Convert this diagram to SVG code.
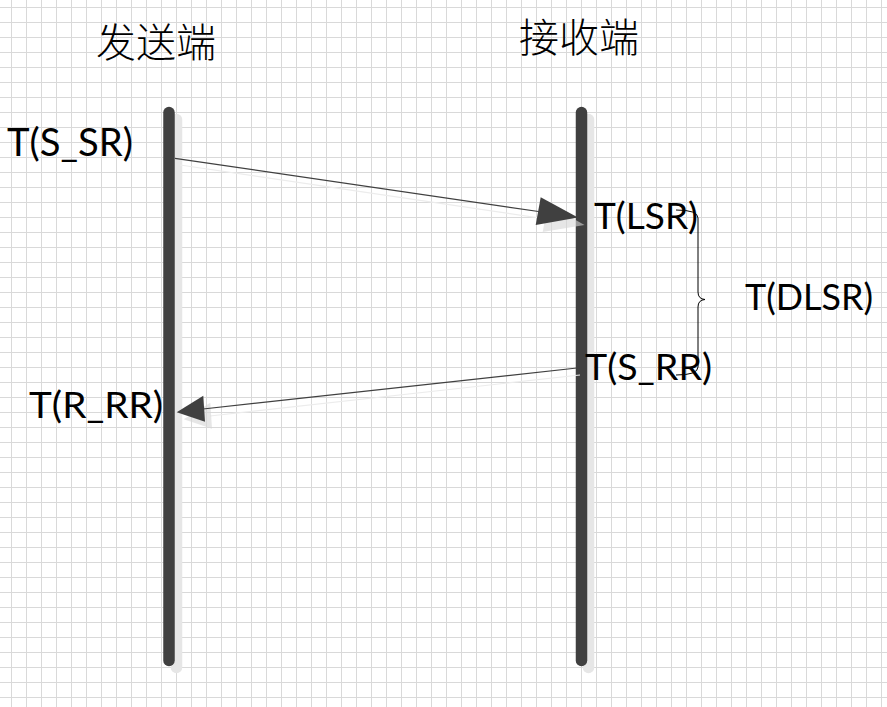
<svg xmlns="http://www.w3.org/2000/svg" width="887" height="707" viewBox="0 0 887 707">
<defs>
<pattern id="grid" x="11" y="7" width="15" height="15" patternUnits="userSpaceOnUse">
<path d="M0.5,0 V15 M0,0.5 H15" fill="none" stroke="#d9d9d9" stroke-width="1"/>
</pattern>
<style>
.life{stroke:#404040;stroke-width:11.5;stroke-linecap:round;fill:none}
.lifesh{stroke:#e6e6e6;stroke-width:11.5;stroke-linecap:round;fill:none}
.msg{stroke:#404040;stroke-width:1.2;fill:none}
.msgsh{stroke:#ececec;stroke-width:1.2;fill:none}
.head{fill:#404040}
.headsh{fill:#d6d6d6;opacity:0.6}
.lbl{font-family:Lato,"Open Sans","Noto Sans",sans-serif;font-size:37px;fill:#000}
.cjk{font-family:"Noto Sans CJK SC",sans-serif;font-size:40px;fill:#000;font-weight:300}
.brace{stroke:#000;stroke-width:1;fill:none}
</style>
</defs>
<rect width="887" height="707" fill="#fff"/>
<rect width="887" height="707" fill="url(#grid)"/>

<g id="sender">
<line class="lifesh" x1="176.5" y1="119.5" x2="176.5" y2="667.5"/>
<line class="life" x1="169" y1="112.5" x2="169" y2="660.5"/>
<text class="cjk" x="96" y="57">发送端</text>
</g>

<g id="receiver">
<line class="lifesh" x1="588.5" y1="119.5" x2="588.5" y2="667.5"/>
<line class="life" x1="581.5" y1="112.5" x2="581.5" y2="660.5"/>
<text class="cjk" x="519" y="52">接收端</text>
</g>

<g id="connectors">
<g id="msg-sr">
<line class="msgsh" x1="180" y1="165" x2="560" y2="221"/>
<polygon class="headsh" points="547.7,204.3 584.5,225 542.7,232"/>
<line class="msg" x1="175" y1="158.3" x2="542" y2="212"/>
<polygon class="head" points="540.7,197.3 578,217.5 535.7,225"/>
</g>
<g id="msg-rr">
<line class="msgsh" x1="580" y1="375" x2="210" y2="416"/>
<polygon class="headsh" points="210.3,402.7 183.7,419.3 212,428.7"/>
<line class="msg" x1="577" y1="368" x2="203" y2="409"/>
<polygon class="head" points="203.3,395.7 176.7,412.3 205,421.7"/>
</g>
<path id="brace-dlsr" class="brace" d="M676,210 Q698,210 698,218 V292 Q698,299 705,299.5 Q698,300 698,307 V367 Q698,375 676,375"/>
</g>

<g id="labels">
<text class="lbl" x="7" y="156" style="font-size:38px" textLength="126" lengthAdjust="spacingAndGlyphs">T(S_SR)</text>
<text class="lbl" x="594" y="229" textLength="104" lengthAdjust="spacingAndGlyphs">T(LSR)</text>
<text class="lbl" x="745" y="310" textLength="128" lengthAdjust="spacingAndGlyphs">T(DLSR)</text>
<text class="lbl" x="585" y="380" textLength="127" lengthAdjust="spacingAndGlyphs">T(S_RR)</text>
<text class="lbl" x="29" y="418" textLength="134" lengthAdjust="spacingAndGlyphs">T(R_RR)</text>
</g>
</svg>
